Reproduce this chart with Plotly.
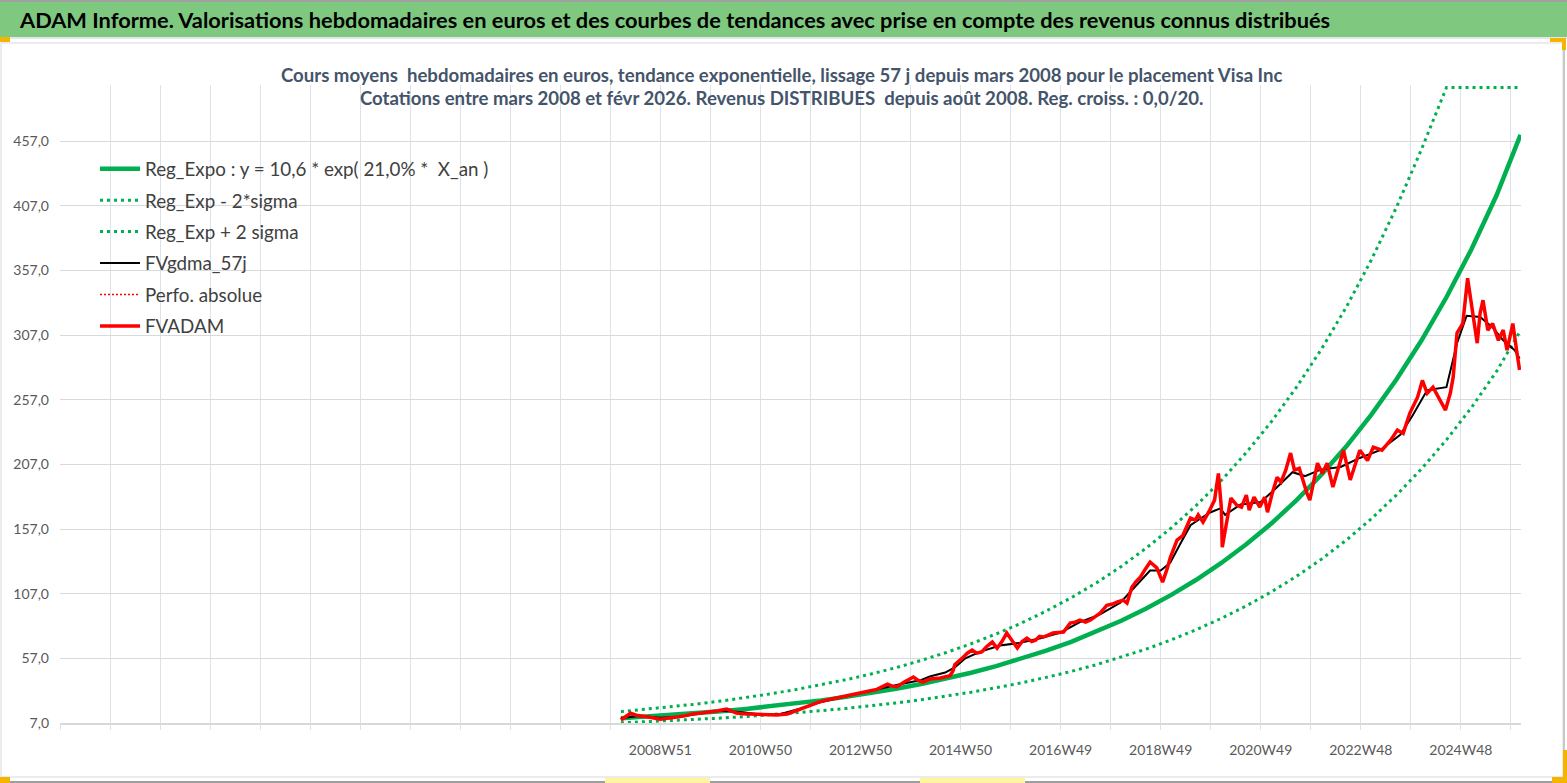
import plotly.graph_objects as go

# week offsets counted from the first quote (2008W10)
axis_start = -583
axis_end = 935.5
first_label_week = 41  # 2008W51
tick_labels = ["2008W51", "2010W50", "2012W50", "2014W50", "2016W49",
               "2018W49", "2020W49", "2022W48", "2024W48"]

# trend curves, one value every 26 weeks (+ last week)
reg_weeks = [0, 26, 52, 78, 104, 130, 156, 182, 208, 234, 260, 286, 312, 338, 364,
             390, 416, 442, 468, 494, 520, 546, 572, 598, 624, 650, 676, 702, 728,
             754, 780, 806, 832, 858, 884, 910, 935]
reg_expo = [10.6, 11.8, 13.1, 14.5, 16.1, 17.9, 19.9, 22.1, 24.5, 27.2, 30.2, 33.5,
            37.2, 41.3, 45.9, 51.0, 56.6, 62.9, 69.8, 77.5, 86.1, 95.6, 106.1, 117.8,
            130.8, 145.3, 161.3, 179.2, 199.0, 221.0, 245.5, 272.7, 302.8, 336.3,
            373.5, 415.0, 462.0]
reg_minus = [7.1, 7.9, 8.8, 9.7, 10.8, 12.0, 13.4, 14.9, 16.5, 18.3, 20.3, 22.5,
             25.0, 27.8, 30.8, 34.3, 38.0, 42.3, 46.9, 52.1, 57.9, 64.2, 71.3, 79.2,
             87.9, 97.6, 108.4, 120.4, 133.7, 148.5, 165.0, 183.3, 203.5, 226.0,
             251.0, 278.9, 310.5]
reg_plus = [15.8, 17.6, 19.5, 21.6, 24.0, 26.6, 29.6, 32.9, 36.5, 40.5, 44.9, 49.8,
            55.4, 61.5, 68.3, 75.9, 84.2, 93.6, 103.9, 115.3, 128.1, 142.3, 157.9,
            175.3, 194.6, 216.2, 240.0, 266.6, 296.1, 328.8, 365.3, 405.8, 450.6,
            498.5, 498.5, 498.5, 498.5]

# moving average 57 j
gdma_weeks = [0, 20, 41, 62, 82, 103, 124, 145, 166, 186, 207, 228, 249, 270, 290,
              311, 321, 337, 347, 358, 373, 394, 415, 436, 457, 477, 498, 519, 540,
              550, 561, 571, 581, 592, 602, 613, 623, 628, 644, 665, 680, 698, 711,
              727, 748, 768, 789, 810, 823, 838, 858, 869, 879, 893, 906, 917, 929, 934]
fvgdma_57j = [10.9, 12.5, 11.0, 11.8, 14.5, 16.5, 15.5, 13.5, 14.0, 18.0, 23.0, 26.5,
              30.0, 34.0, 37.0, 40.0, 43.0, 46.0, 50.0, 57.0, 62.0, 67.0, 69.0, 72.5,
              77.0, 85.0, 91.0, 100.0, 117.0, 125.0, 125.0, 131.0, 145.0, 160.0,
              165.0, 170.0, 173.0, 168.0, 176.0, 178.0, 188.0, 201.0, 198.0, 203.0,
              205.0, 212.0, 218.0, 230.0, 245.0, 264.5, 266.8, 300.8, 322.0, 321.0,
              313.0, 303.0, 295.4, 289.0]

# no values for this series, it only shows in the legend
perfo_absolue = [None]

fvadam_weeks = [0, 5, 10, 16, 23, 30, 41, 50, 58, 66, 75, 84, 93, 101, 110, 115, 120,
                127, 134, 143, 152, 162, 173, 178, 183, 190, 197, 205, 214, 222, 231,
                240, 249, 257, 266, 272, 277, 282, 287, 295, 304, 309, 314, 321, 332,
                342, 345, 347, 352, 356, 360, 365, 370, 375, 380, 386, 391, 396, 401,
                406, 412, 417, 422, 427, 431, 435, 439, 444, 449, 455, 460, 467, 472,
                477, 483, 488, 493, 498, 505, 511, 516, 522, 526, 531, 535, 540, 545,
                550, 557, 563, 568, 571, 578, 584, 592, 597, 600, 605, 612, 617, 621,
                624, 625, 629, 634, 640, 645, 650, 653, 658, 664, 669, 672, 677, 682,
                686, 691, 696, 700, 705, 708, 713, 716, 724, 729, 734, 740, 751, 758,
                768, 776, 782, 791, 800, 807, 813, 820, 828, 833, 838, 844, 851, 857,
                862, 865, 869, 875, 880, 886, 890, 893, 896, 901, 906, 912, 917, 921,
                927, 931, 934]
fvadam = [9.3, 12.0, 14.5, 13.0, 12.4, 11.5, 10.0, 10.5, 11.6, 12.5, 14.0, 14.8, 15.5,
          16.5, 17.8, 16.0, 14.7, 14.2, 14.0, 13.5, 13.0, 13.2, 14.0, 15.5, 17.0, 19.0,
          21.0, 23.0, 24.8, 26.0, 27.0, 28.5, 30.0, 31.5, 33.0, 35.0, 37.0, 35.5, 35.0,
          39.0, 42.6, 40.0, 38.7, 41.0, 41.8, 43.5, 47.0, 52.0, 55.0, 58.0, 61.0, 63.4,
          61.0, 62.0, 66.0, 69.6, 65.0, 70.0, 76.6, 71.0, 65.0, 70.0, 72.7, 70.0, 71.0,
          74.0, 73.5, 75.0, 76.6, 77.0, 77.4, 84.3, 85.0, 86.6, 85.0, 86.6, 89.0, 92.0,
          98.0, 99.0, 100.6, 102.0, 99.8, 112.0, 116.0, 120.0, 126.0, 131.5, 127.0,
          116.0, 127.0, 135.0, 148.5, 152.0, 165.5, 164.0, 168.0, 162.4, 171.7, 179.4,
          200.0, 174.0, 143.0, 161.6, 181.0, 175.6, 174.0, 183.3, 171.7, 181.7, 174.0,
          181.7, 170.0, 184.8, 197.0, 193.3, 202.6, 215.8, 202.6, 204.0, 196.4, 184.8,
          179.4, 208.0, 200.0, 208.0, 189.5, 218.0, 195.0, 218.0, 210.0, 220.4, 218.0,
          225.8, 233.6, 231.0, 246.7, 259.0, 272.0, 262.0, 266.8, 256.7, 249.0, 262.0,
          274.5, 308.6, 316.0, 351.0, 318.6, 300.8, 324.0, 334.0, 310.9, 316.0, 303.0,
          311.0, 295.4, 316.0, 295.0, 280.0]

header = ("ADAM Informe. Valorisations hebdomadaires en euros et des courbes de "
          "tendances avec prise en compte des revenus connus distribués")
subtitle_1 = ("Cours moyens\u00a0 hebdomadaires en euros, tendance exponentielle, lissage 57 j "
              "depuis mars 2008 pour le placement Visa Inc")
subtitle_2 = ("Cotations entre mars 2008 et févr 2026. Revenus DISTRIBUES\u00a0 depuis août 2008. "
              "Reg. croiss. : 0,0/20.")

W, H = 1567, 783
L, R, T, B = 60, 46, 85, 60
PW, PH = W - L - R, H - T - B
FONT = "Lato, 'Open Sans', sans-serif"
GREEN = "#00B050"


def px(x):
    return (x - L) / PW


def py(y):
    return (H - B - y) / PH


def box(x0, y0, x1, y1, fill, layer="above", line=None):
    return dict(type="rect", xref="paper", yref="paper",
                x0=px(x0), x1=px(x1), y0=py(y1), y1=py(y0),
                fillcolor=fill, layer=layer,
                line=line if line else dict(width=0))


fig = go.Figure()
fig.add_trace(go.Scatter(x=reg_weeks, y=reg_expo, mode="lines", legendgroup="a",
                         name="Reg_Expo : y = 10,6 * exp( 21,0% *\u00a0 X_an )",
                         line=dict(color=GREEN, width=4.5)))
fig.add_trace(go.Scatter(x=reg_weeks, y=reg_minus, mode="lines", legendgroup="b",
                         name="Reg_Exp - 2*sigma",
                         line=dict(color=GREEN, width=3, dash="3px,4px")))
fig.add_trace(go.Scatter(x=reg_weeks, y=reg_plus, mode="lines", legendgroup="c",
                         name="Reg_Exp + 2 sigma",
                         line=dict(color=GREEN, width=3, dash="3px,4px")))
fig.add_trace(go.Scatter(x=gdma_weeks, y=fvgdma_57j, mode="lines", legendgroup="d",
                         name="FVgdma_57j", line=dict(color="black", width=2)))
fig.add_trace(go.Scatter(x=perfo_absolue, y=perfo_absolue, mode="lines", legendgroup="e",
                         name="Perfo. absolue",
                         line=dict(color="#FF0000", width=1.5, dash="2px,2px")))
fig.add_trace(go.Scatter(x=fvadam_weeks, y=fvadam, mode="lines", legendgroup="f",
                         name="FVADAM", line=dict(color="#FF0000", width=3.5)))

grid_weeks = [first_label_week + 52 * k for k in range(-12, 18)]
grid_text = []
for k in range(-12, 18):
    grid_text.append(tick_labels[k // 2] if k >= 0 and k % 2 == 0 else "")

shapes = [
    # chart border, header band, page edges
    box(1, 43, 1563, 777, "white", "below", dict(color="#D9D9D9", width=1)),
    box(0, 0, W, 37, "#7EC97F", "below"),
    box(0, 0, W, 2, "#A0A0A0", "below"),
    box(0, 37, W, 39, "#E4E6EA", "below"),
    box(0, 781, W, 783, "#9E9E9E", "below"),
    box(1563, 43, 1565, 781, "#C8C8C8", "below"),
    # small selection marks
    box(0, 37, 10, 42, "#F5B400"),
    box(0, 777, 10, 783, "#F5B400"),
    box(1550, 38, 1566, 42, "#F5B400"),
    box(1562, 38, 1566, 50, "#F5B400"),
    box(1563, 750, W, 783, "#F5B400"),
    box(1552, 777, W, 783, "#F5B400"),
    box(605, 778, 710, 783, "#FFF59D"),
    box(920, 778, 1025, 783, "#FFF59D"),
]

annotations = [
    dict(text=header, x=px(17), y=py(20), xref="paper", yref="paper",
         xanchor="left", yanchor="middle", showarrow=False,
         font=dict(family=FONT, size=21.8, color="black", weight="bold")),
    dict(text=subtitle_1, x=px(781), y=py(75), xref="paper", yref="paper",
         xanchor="center", yanchor="middle", showarrow=False,
         font=dict(family=FONT, size=18.6, color="#44546A", weight="bold")),
    dict(text=subtitle_2, x=px(781), y=py(98), xref="paper", yref="paper",
         xanchor="center", yanchor="middle", showarrow=False,
         font=dict(family=FONT, size=18.6, color="#44546A", weight="bold")),
]

fig.update_layout(
    width=W, height=H,
    margin=dict(l=L, r=R, t=T, b=B, pad=0),
    paper_bgcolor="white",
    plot_bgcolor="rgba(0,0,0,0)",
    separators=", ",
    font=dict(family=FONT, color="#595959"),
    shapes=shapes,
    annotations=annotations,
    legend=dict(x=px(95), y=py(150), xanchor="left", yanchor="top",
                bgcolor="rgba(0,0,0,0)", tracegroupgap=4, itemwidth=40,
                font=dict(family=FONT, size=18.8, color="#404040")),
    xaxis=dict(range=[axis_start, axis_end], tickmode="array",
               tickvals=grid_weeks, ticktext=grid_text,
               showgrid=True, gridcolor="#DDE1E8", gridwidth=1,
               ticks="outside", ticklen=5, tickcolor="#DDE1E8",
               showline=True, linecolor="#D9D9D9", linewidth=2,
               zeroline=False, ticklabelstandoff=8,
               tickfont=dict(family=FONT, size=14, color="#595959")),
    yaxis=dict(range=[7, 500.5], tick0=7, dtick=50, tickformat=".1f",
               showgrid=True, gridcolor="#D9D9D9", gridwidth=1.3,
               zeroline=False, ticks="", ticklabelstandoff=10,
               tickfont=dict(family=FONT, size=14, color="#595959")),
)

fig.write_html("out.html", config={"displayModeBar": False},
               post_script="document.body.style.margin='0';document.body.style.overflow='hidden';")
